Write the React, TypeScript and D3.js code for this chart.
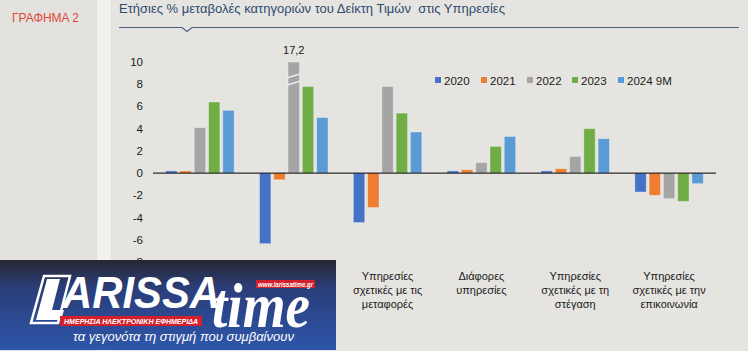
import React, { useRef, useEffect } from 'react';
import * as d3 from 'd3';

// categories (the first two sit behind the logo in the original, so their labels are not drawn)
const categories = [
  ['Υπηρεσίες', 'αναψυχής και', 'πολιτισμού'],
  ['Υπηρεσίες', 'εστίασης και', 'καταλυμάτων'],
  ['Υπηρεσίες', 'σχετικές με τις', 'μεταφορές'],
  ['Διάφορες', 'υπηρεσίες'],
  ['Υπηρεσίες', 'σχετικές με τη', 'στέγαση'],
  ['Υπηρεσίες', 'σχετικές με την', 'επικοινωνία'],
];
const years = ['2020', '2021', '2022', '2023', '2024 9M'];
const colors = ['#4472c4', '#ed7d31', '#a5a5a5', '#70ad47', '#5b9bd5'];

const v2020 = [0.2, -6.35, -4.45, 0.2, 0.2, -1.7];
const v2021 = [0.2, -0.6, -3.1, 0.3, 0.4, -2.0];
const v2022 = [4.1, 17.2, 7.8, 0.95, 1.5, -2.3];
const v2023 = [6.4, 7.8, 5.4, 2.4, 4.0, -2.55];
const v2024 = [5.65, 5.0, 3.7, 3.3, 3.1, -0.95];
const series = [v2020, v2021, v2022, v2023, v2024];

const yTicks = [-8, -6, -4, -2, 0, 2, 4, 6, 8, 10];
const yMax = 10; // values above are cut with a break mark

const W = 748;
const H = 351;
const LOGO_RIGHT = 336;

export default function App() {
  const svgRef = useRef(null);

  useEffect(() => {
    document.body.style.margin = '0';
    const svg = d3.select(svgRef.current);
    svg.selectAll('*').remove();

    const font = 'Liberation Sans, Arial, sans-serif';

    // backgrounds
    svg.append('rect').attr('width', W).attr('height', H).attr('fill', '#e5e4e0');
    svg.append('rect').attr('x', 0).attr('width', 97).attr('height', H).attr('fill', '#e3e2de');
    svg.append('rect').attr('x', 97).attr('width', 14).attr('height', H).attr('fill', '#f2f1ee');

    svg.append('text')
      .attr('x', 12).attr('y', 22)
      .attr('font-family', font).attr('font-size', 12)
      .attr('fill', '#e2483a')
      .text('ΓΡΑΦΗΜΑ 2');

    // title + rule with notch
    svg.append('text')
      .attr('x', 119).attr('y', 13)
      .attr('font-family', font).attr('font-size', 13)
      .attr('fill', '#2d4a6e')
      .attr('xml:space', 'preserve')
      .text('Ετήσιες % μεταβολές κατηγοριών του Δείκτη Τιμών  στις Υπηρεσίες');
    svg.append('path')
      .attr('d', 'M119,27.5H182L187,31.5L192,27.5H739')
      .attr('fill', 'none').attr('stroke', '#4b6284').attr('stroke-width', 1.2);

    const x0 = d3.scaleBand()
      .domain(categories.map((_, i) => String(i)))
      .range([153, 716])
      .paddingInner(0.27)
      .paddingOuter(0.135);
    const x1 = d3.scaleBand()
      .domain(years)
      .range([0, x0.bandwidth()])
      .paddingInner(0.2);
    const y = d3.scaleLinear().domain([-8, 10]).range([262, 62]);

    // y axis labels
    svg.append('g').selectAll('text')
      .data(yTicks)
      .join('text')
      .attr('x', 143)
      .attr('y', d => y(d) + 4)
      .attr('text-anchor', 'end')
      .attr('font-family', font).attr('font-size', 11.5)
      .attr('fill', '#1a1a1a')
      .text(d => d);

    // bars
    const g = svg.append('g');
    series.forEach((vals, si) => {
      g.selectAll(null)
        .data(vals.map((v, ci) => ({ v, ci })))
        .join('rect')
        .attr('x', d => x0(String(d.ci)) + x1(years[si]))
        .attr('width', x1.bandwidth())
        .attr('y', d => y(Math.max(0, Math.min(d.v, yMax))))
        .attr('height', d => Math.abs(y(Math.min(d.v, yMax)) - y(0)))
        .attr('fill', colors[si])
        .attr('stroke', 'rgba(255,255,255,0.35)')
        .attr('stroke-width', 1);

      // break marks + value label for cut bars
      vals.forEach((v, ci) => {
        if (v <= yMax) return;
        const bx = x0(String(ci)) + x1(years[si]);
        const bw = x1.bandwidth();
        [y(8.75), y(8.1)].forEach(yy => {
          g.append('line')
            .attr('x1', bx - 1).attr('x2', bx + bw + 1)
            .attr('y1', yy + 2).attr('y2', yy - 2)
            .attr('stroke', '#f4f4f4').attr('stroke-width', 1.3);
        });
        g.append('text')
          .attr('x', bx + bw / 2).attr('y', 54)
          .attr('text-anchor', 'middle')
          .attr('font-family', font).attr('font-size', 11)
          .attr('fill', '#1a1a1a')
          .text(String(v).replace('.', ','));
      });
    });

    // zero line
    svg.append('line')
      .attr('x1', 153).attr('x2', 716)
      .attr('y1', y(0)).attr('y2', y(0))
      .attr('stroke', '#000').attr('stroke-width', 1);

    // category labels (skip the ones the logo covers)
    const cl = svg.append('g');
    categories.forEach((lines, ci) => {
      const cx = x0(String(ci)) + x0.bandwidth() / 2;
      if (cx < LOGO_RIGHT) return;
      const t = cl.append('text')
        .attr('text-anchor', 'middle')
        .attr('font-family', font).attr('font-size', 11)
        .attr('fill', '#1a1a1a');
      lines.forEach((l, li) => {
        t.append('tspan').attr('x', cx).attr('y', 280 + li * 14).text(l);
      });
    });

    // legend
    const legX = [435, 481, 527, 572, 618];
    const leg = svg.append('g');
    years.forEach((yr, i) => {
      leg.append('rect')
        .attr('x', legX[i]).attr('y', 77)
        .attr('width', 6).attr('height', 6)
        .attr('fill', colors[i]);
      leg.append('text')
        .attr('x', legX[i] + 9).attr('y', 85)
        .attr('font-family', font).attr('font-size', 11.5)
        .attr('fill', '#1a1a1a')
        .text(yr);
    });

    // logo banner
    const defs = svg.append('defs');
    const grad = defs.append('linearGradient')
      .attr('id', 'logoGrad').attr('x1', 0).attr('y1', 0).attr('x2', 0).attr('y2', 1);
    grad.append('stop').attr('offset', '0%').attr('stop-color', '#26272e');
    grad.append('stop').attr('offset', '30%').attr('stop-color', '#2a3d78');
    grad.append('stop').attr('offset', '100%').attr('stop-color', '#2e56aa');

    const logo = svg.append('g');
    logo.append('rect')
      .attr('x', 0).attr('y', 260).attr('width', LOGO_RIGHT).attr('height', 90)
      .attr('fill', 'url(#logoGrad)');

    // L in slanted box
    logo.append('path')
      .attr('d', 'M44,276H70L58,323H31Z')
      .attr('fill', 'none').attr('stroke', '#fff').attr('stroke-width', 2.5);
    logo.append('path')
      .attr('d', 'M47,279H60L52,310H64L61,320H36Z')
      .attr('fill', '#fff');

    logo.append('text')
      .attr('x', 62).attr('y', 308)
      .attr('font-family', font).attr('font-size', 44)
      .attr('font-weight', 'bold').attr('font-style', 'italic')
      .attr('fill', '#fff')
      .attr('textLength', 158).attr('lengthAdjust', 'spacingAndGlyphs')
      .text('ARISSA');

    logo.append('rect')
      .attr('x', 60).attr('y', 316).attr('width', 142).attr('height', 10)
      .attr('fill', '#d4202c');
    logo.append('text')
      .attr('x', 64).attr('y', 324)
      .attr('font-family', font).attr('font-size', 8)
      .attr('font-weight', 'bold').attr('font-style', 'italic')
      .attr('fill', '#fff')
      .attr('textLength', 134).attr('lengthAdjust', 'spacingAndGlyphs')
      .text('ΗΜΕΡΗΣΙΑ ΗΛΕΚΤΡΟΝΙΚΗ ΕΦΗΜΕΡΙΔΑ');

    logo.append('text')
      .attr('x', 212).attr('y', 327)
      .attr('font-family', 'Liberation Serif, Times New Roman, serif').attr('font-size', 64)
      .attr('font-style', 'italic').attr('font-weight', 'bold')
      .attr('fill', '#fff')
      .attr('textLength', 98).attr('lengthAdjust', 'spacingAndGlyphs')
      .text('time');

    logo.append('rect')
      .attr('x', 256).attr('y', 280).attr('width', 59).attr('height', 8)
      .attr('fill', '#d4202c');
    logo.append('text')
      .attr('x', 258).attr('y', 286.5)
      .attr('font-family', font).attr('font-size', 6.5)
      .attr('font-weight', 'bold').attr('font-style', 'italic')
      .attr('fill', '#fff')
      .attr('textLength', 55).attr('lengthAdjust', 'spacingAndGlyphs')
      .text('www.larissatime.gr');

    logo.append('text')
      .attr('x', 73).attr('y', 341)
      .attr('font-family', font).attr('font-size', 12)
      .attr('font-style', 'italic')
      .attr('fill', '#fff')
      .attr('textLength', 221).attr('lengthAdjust', 'spacingAndGlyphs')
      .text('τα γεγονότα τη στιγμή που συμβαίνουν');
  }, []);

  return (
    <div style={{ position: 'absolute', left: 0, top: 0, width: W, height: H }}>
      <svg ref={svgRef} width={W} height={H} style={{ display: 'block' }} />
    </div>
  );
}
